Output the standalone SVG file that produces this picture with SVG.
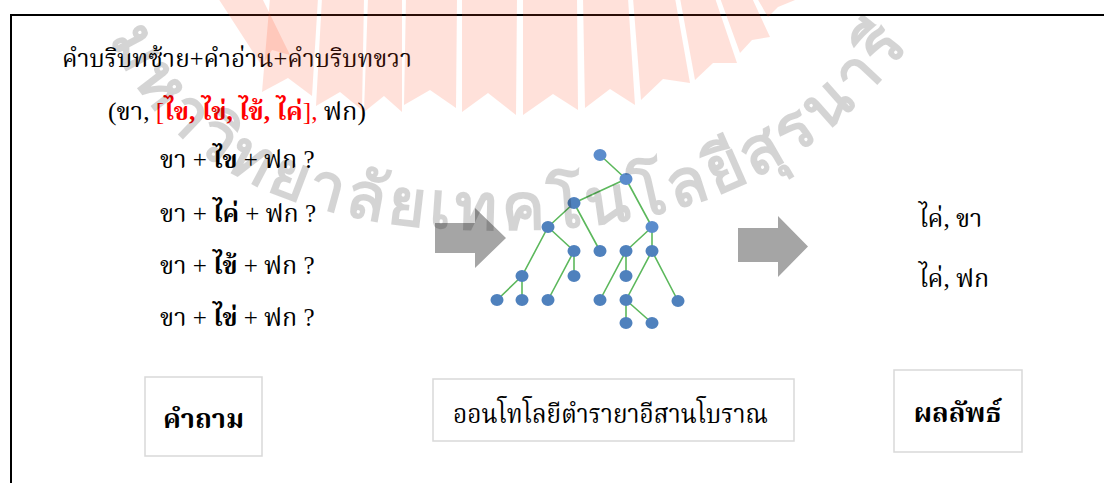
<svg xmlns="http://www.w3.org/2000/svg" width="1104" height="483" viewBox="0 0 1104 483">
<style>
.t{font-family:"Liberation Serif","Noto Serif Thai","Noto Sans Thai",serif;font-size:25px;fill:#000}
.b{font-weight:bold}
.r{fill:#ff0000}
.box{fill:#fff;stroke:#d9d9d9;stroke-width:1.5}
.arrow{fill:#a5a5a5}
.edge{stroke:#5cb85c;stroke-width:1.6;fill:none}
.node{fill:#4f81bd}
.lt{fill:#5b8ccc}
.rib{fill:#ff4d26;fill-opacity:0.17}
.wm{font-family:"Noto Sans","DejaVu Sans",sans-serif;font-weight:bold;font-size:65px;fill:#000;fill-opacity:0.17}
</style>
<defs>
<path id="wmArc" d="M110,38 C170,170 300,230 500,230 C650,230 800,200 920,30"/>
</defs>
<rect width="1104" height="483" fill="#fff"/>
<path d="M1104,15 H11 V483" stroke="#000" stroke-width="2" fill="none"/>

<g id="query-text">
<text class="t" x="62" y="67" textLength="350" lengthAdjust="spacingAndGlyphs">คำบริบทซ้าย+คำอ่าน+คำบริบทขวา</text>
<text class="t" x="108" y="120" textLength="258" lengthAdjust="spacingAndGlyphs">(ขา, <tspan class="r">[</tspan><tspan class="r b">ไข, ไข่, ไข้, ไค่</tspan><tspan class="r">],</tspan> ฟก)</text>
<text class="t" x="160" y="168">ขา + <tspan class="b">ไข</tspan> + ฟก ?</text>
<text class="t" x="160" y="222">ขา + <tspan class="b">ไค่</tspan> + ฟก ?</text>
<text class="t" x="160" y="274">ขา + <tspan class="b">ไข้</tspan> + ฟก ?</text>
<text class="t" x="160" y="326">ขา + <tspan class="b">ไข่</tspan> + ฟก ?</text>
</g>

<g id="arrow-left"><path class="arrow" d="M435,223 H475 V208 L506,238 L475,268 V253 H435 Z"/></g>
<g id="arrow-right"><path class="arrow" d="M738,228 H778 V216 L808,246.5 L778,277 V262 H738 Z"/></g>

<g id="tree-edges">
<path class="edge" d="M600,155 L626,179 M626,179 L574,203 M626,179 L652,227 M574,203 L548,227 M574,203 L600,251 M548,227 L574,251 M548,227 L522,276 M574,251 L574,276 M574,251 L548,300 M522,276 L497,300 M522,276 L522,300 M652,227 L626,251 M652,227 L652,251 M626,251 L626,276 M626,251 L600,300 M652,251 L626,300 M652,251 L678,301 M626,300 L626,323 M626,300 L652,323"/>
</g>
<g id="tree-nodes">
<ellipse class="node lt" cx="600" cy="155" rx="6.5" ry="6"/>
<ellipse class="node lt" cx="626" cy="179" rx="6.5" ry="6"/>
<ellipse class="node" cx="574" cy="203" rx="6.5" ry="6"/>
<ellipse class="node lt" cx="652" cy="227" rx="6.5" ry="6"/>
<ellipse class="node" cx="548" cy="227" rx="6.5" ry="6"/>
<ellipse class="node" cx="574" cy="251" rx="6.5" ry="6"/>
<ellipse class="node" cx="600" cy="251" rx="6.5" ry="6"/>
<ellipse class="node" cx="626" cy="251" rx="6.5" ry="6"/>
<ellipse class="node" cx="652" cy="251" rx="6.5" ry="6"/>
<ellipse class="node" cx="522" cy="276" rx="6.5" ry="6"/>
<ellipse class="node" cx="574" cy="276" rx="6.5" ry="6"/>
<ellipse class="node" cx="626" cy="276" rx="6.5" ry="6"/>
<ellipse class="node" cx="497" cy="300" rx="6.5" ry="6"/>
<ellipse class="node" cx="522" cy="300" rx="6.5" ry="6"/>
<ellipse class="node" cx="548" cy="300" rx="6.5" ry="6"/>
<ellipse class="node" cx="600" cy="300" rx="6.5" ry="6"/>
<ellipse class="node" cx="626" cy="300" rx="6.5" ry="6"/>
<ellipse class="node" cx="678" cy="301" rx="6.5" ry="6"/>
<ellipse class="node" cx="626" cy="323" rx="6.5" ry="6"/>
<ellipse class="node" cx="652" cy="323" rx="6.5" ry="6"/>
</g>

<g id="result-text">
<text class="t" x="919" y="227">ไค่, ขา</text>
<text class="t" x="919" y="287">ไค่, ฟก</text>
</g>

<g id="box-question">
<rect class="box" x="145" y="377" width="117" height="79"/>
<text class="t b" x="203.5" y="428" text-anchor="middle" style="font-size:27px">คำถาม</text>
</g>
<g id="box-ontology">
<rect class="box" x="433" y="379" width="361" height="62"/>
<text class="t" x="453" y="423" textLength="315" lengthAdjust="spacingAndGlyphs" style="font-size:27px">ออนโทโลยีตำรายาอีสานโบราณ</text>
</g>
<g id="box-result">
<rect class="box" x="894" y="370" width="128" height="82"/>
<text class="t b" x="957.5" y="422" text-anchor="middle" style="font-size:27px">ผลลัพธ์</text>
</g>

<g id="watermark-ribbons">
<polygon class="rib" points="218,-2 262,-2 290,55 272,50 262,66"/>
<polygon class="rib" points="270,-2 318,-2 312,96 288,78 262,92"/>
<polygon class="rib" points="322,-2 364,-2 362,110 340,92 316,106"/>
<polygon class="rib" points="368,-2 402,-2 402,112 384,96 364,112"/>
<polygon class="rib" points="406,-2 457,-2 456,108 430,90 404,105"/>
<polygon class="rib" points="462,-2 517,-2 516,115 488,93 462,112"/>
<polygon class="rib" points="523,-2 577,-2 578,110 553,94 523,115"/>
<polygon class="rib" points="583,-2 628,-2 635,105 610,89 585,108"/>
<polygon class="rib" points="633,-2 675,-2 690,83 663,79 641,100"/>
<polygon class="rib" points="680,-2 715,-2 737,63 713,63 695,80"/>
<polygon class="rib" points="720,-2 752,-2 770,37 752,40 740,53"/>
<polygon class="rib" points="757,-2 800,-2 778,7 768,17"/>
</g>
<g id="watermark-text">
<text class="wm"><textPath href="#wmArc" textLength="930" lengthAdjust="spacing">มหาวิทยาลัยเทคโนโลยีสุรนารี</textPath></text>
</g>
</svg>
